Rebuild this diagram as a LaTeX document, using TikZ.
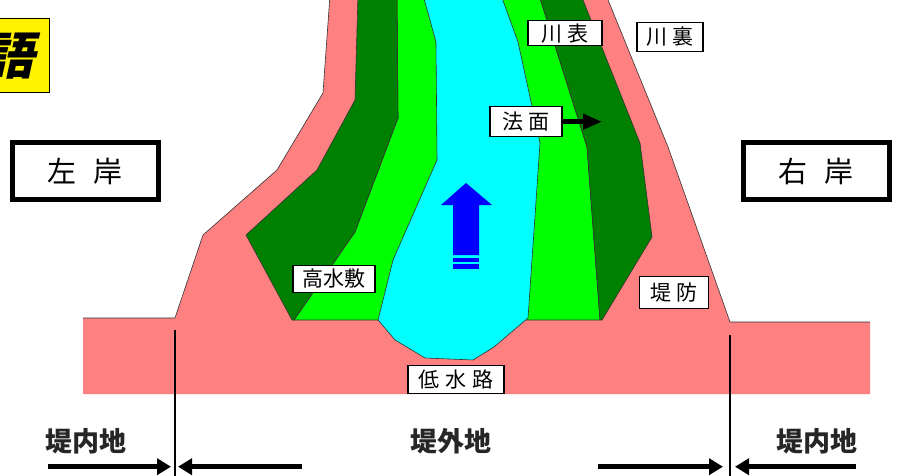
\documentclass[tikz,border=0pt]{standalone}
\usepackage{fontspec}
\newfontfamily\jp{Noto Sans CJK JP}
\newfontfamily\jpsl{Noto Sans CJK JP}[FakeSlant=0.22]
\usetikzlibrary{arrows.meta}
\definecolor{dike}{HTML}{FF8080}
\definecolor{dgreen}{HTML}{008000}
\definecolor{lgreen}{HTML}{00FF00}
\definecolor{water}{HTML}{00FFFF}
\definecolor{flow}{HTML}{0000FF}
\definecolor{edgecol}{HTML}{333333}
\begin{document}
\begin{tikzpicture}[x=1pt,y=-1pt,
  edge/.style={draw=edgecol,line width=0.6pt,line join=round},
  lbl/.style={draw=black,fill=white,line width=1.1pt,inner sep=0pt,
    font=\jp\fontsize{21}{21}\selectfont},
  bigbox/.style={draw=black,fill=white,line width=5pt,inner sep=0pt,
    minimum width=146pt,minimum height=56pt,font=\jp\fontsize{29}{29}\selectfont},
  plain/.style={inner sep=0pt,font=\jp\bfseries\fontsize{27}{27}\selectfont,text=black!85},
  barrow/.style={line width=5pt,-{Triangle[length=14pt,width=16pt]}},
  vline/.style={line width=2pt}]
\useasboundingbox (0,0) rectangle (900,476);
\fill[white] (0,0) rectangle (900,476);

% dike body
\fill[dike] (83,318) -- (175,318) -- (203,235) -- (277,170) -- (323,93) -- (330,-5)
  -- (606,-5) -- (668,147) -- (730,322) -- (870,322) -- (870,394) -- (83,394) -- cycle;
\draw[edge] (83,318) -- (175,318) -- (203,235) -- (277,170) -- (323,93) -- (330,-5);
\draw[edge] (606,-5) -- (668,147) -- (730,322) -- (870,322);

% high-water bed (light green)
\filldraw[lgreen,edge] (294,320) -- (355,232) -- (398,118) -- (397,-5) -- (539,-5)
  -- (587,147) -- (600,320) -- cycle;
% dike slopes (dark green)
\filldraw[dgreen,edge] (292,320) -- (246,235) -- (317,170) -- (355,100) -- (358,-5)
  -- (397,-5) -- (398,118) -- (355,232) -- (294,320) -- cycle;
\filldraw[dgreen,edge] (539,-5) -- (581,-5) -- (640,143) -- (652,237) -- (602,320)
  -- (600,320) -- (587,147) -- cycle;
% low-water channel
\filldraw[water,edge] (378,320) -- (393,260) -- (437,160) -- (436,42) -- (423,-5)
  -- (501,-5) -- (518,42) -- (540,143) -- (528,318) -- (494,347) -- (473,360)
  -- (425,358) -- (395,340) -- cycle;

% flow arrow
\fill[flow] (466,183) -- (492,205) -- (479,205) -- (479,255) -- (453,255) -- (453,205)
  -- (441,205) -- cycle;
\fill[flow] (453,257.5) rectangle (479,261.7);
\fill[flow] (453,264.3) rectangle (479,269);

% title box (clipped at the left edge, as in the reference)
\node[draw=black,fill=yellow,line width=1.5pt,minimum width=110pt,minimum height=74pt,
  anchor=north east] (title) at (50,18) {};
\node[inner sep=0pt,font=\jpsl\bfseries\fontsize{50}{50}\selectfont] (titletext) at (9,56) {語};

% bank boxes
\node[bigbox] (left) at (85,171) {左\hspace{18pt}岸};
\node[bigbox] (right) at (816,171) {右\hspace{18pt}岸};

% labels
\node[lbl,minimum width=74pt,minimum height=25pt] (kawaomote) at (565,33.3) {川\hspace{6pt}表};
\node[lbl,minimum width=66pt,minimum height=29pt] (kawaura) at (670,36.7) {川\hspace{6pt}裏};
\node[lbl,minimum width=72pt,minimum height=30pt] (norimen) at (526,121.7) {法\hspace{6pt}面};
\node[lbl,minimum width=82pt,minimum height=27pt] (kosuijiki) at (334,278.7) {高水敷};
\node[lbl,minimum width=69pt,minimum height=32pt] (teibou) at (674,292.8) {堤\hspace{6pt}防};
\node[lbl,minimum width=96pt,minimum height=28pt] (teisuiro) at (456,379.2) {低\hspace{6pt}水\hspace{6pt}路};

\coordinate (normtip) at (602,121.7);
\draw[line width=4.5pt,-{Triangle[length=19pt,width=15pt]}] (norimen.east) -- (normtip);

% land labels
\node[plain] (naichiL) at (86,441.7) {堤内地};
\node[plain] (gaichi) at (451,441) {堤外地};
\node[plain] (naichiR) at (816.5,441.7) {堤内地};

% boundary lines
\coordinate (vl1) at (175,330); \coordinate (vl2) at (175,476);
\coordinate (vr1) at (730,335); \coordinate (vr2) at (730,476);
\draw[vline] (vl1) -- (vl2);
\draw[vline] (vr1) -- (vr2);

% arrows
\coordinate (a1s) at (48,466.7);  \coordinate (a1e) at (171,466.7);
\coordinate (a2s) at (302,466.7); \coordinate (a2e) at (178,466.7);
\coordinate (a3s) at (598,466.7); \coordinate (a3e) at (723,466.7);
\coordinate (a4s) at (856,466.7); \coordinate (a4e) at (735,466.7);
\draw[barrow] (a1s) -- (a1e);
\draw[barrow] (a2s) -- (a2e);
\draw[barrow] (a3s) -- (a3e);
\draw[barrow] (a4s) -- (a4e);
\end{tikzpicture}
\end{document}
